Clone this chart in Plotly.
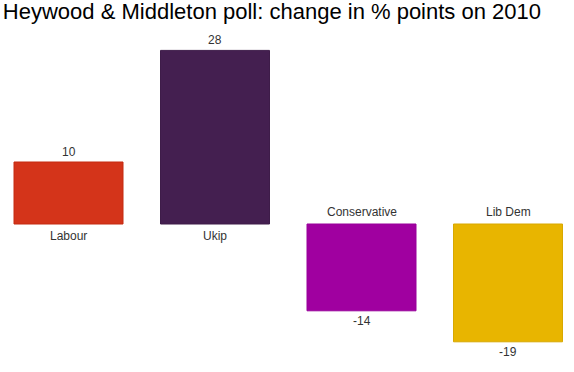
import plotly.graph_objects as go

parties = ["Labour", "Ukip", "Conservative", "Lib Dem"]
changes = [10, 28, -14, -19]
fill_colors = ["#d4341a", "#441f50", "#a000a0", "#e8b500"]
line_colors = ["#c42a10", "#3e1c49", "#98009a", "#d8a800"]
title_text = "Heywood & Middleton poll: change in % points on 2010"

fig = go.Figure()
fig.add_trace(go.Bar(
    x=parties, y=changes, width=0.744,
    marker=dict(color=fill_colors, line=dict(color=line_colors, width=1)),
    hoverinfo="x+y",
))

font = dict(family="Liberation Sans, Arial, sans-serif", size=12, color="#333333")
for p, v in zip(parties, changes):
    up = v >= 0
    # value label
    fig.add_annotation(x=p, y=v, text=str(v), showarrow=False, font=font,
                       yanchor="middle", yshift=10 if up else -10)
    # category label
    fig.add_annotation(x=p, y=0, text=p, showarrow=False, font=font,
                       yanchor="middle", yshift=-12 if up else 12)

fig.update_layout(
    width=574, height=372,
    margin=dict(l=0, r=0, t=30, b=0),
    paper_bgcolor="white", plot_bgcolor="white",
    showlegend=False,
    title=dict(text=title_text, xref="container", x=0.005, xanchor="left",
               yref="container", y=0.97, yanchor="middle",
               font=dict(family="Liberation Sans, Arial, sans-serif", size=22, color="#000000")),
    xaxis=dict(visible=False, range=[-0.4676, 3.4505]),
    yaxis=dict(visible=False, range=[-23.87, 31.29]),
)

fig.write_html("out.html")
